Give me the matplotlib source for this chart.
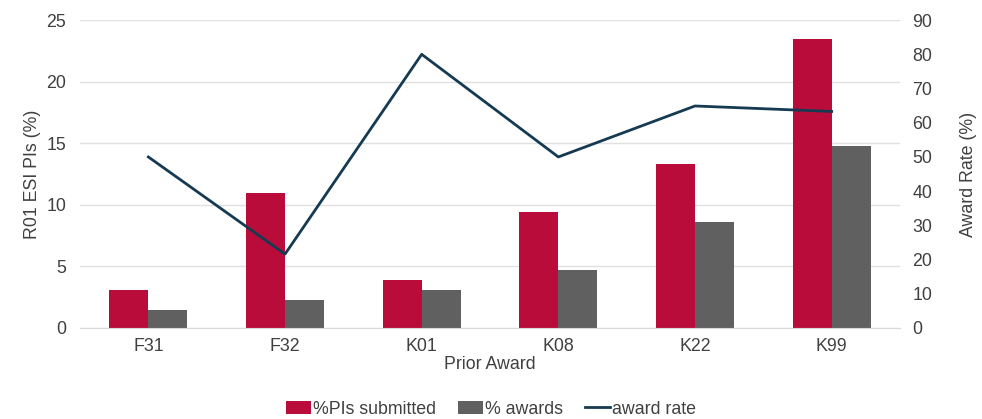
import matplotlib.pyplot as plt
import numpy as np

plt.rcParams['font.family'] = ['Liberation Sans', 'DejaVu Sans']

awards = ['F31', 'F32', 'K01', 'K08', 'K22', 'K99']
pct_submitted = [3.1, 11.0, 3.9, 9.4, 13.3, 23.5]
pct_awards = [1.5, 2.3, 3.1, 4.7, 8.6, 14.8]
award_rate = [50.0, 21.6, 80.0, 50.0, 64.9, 63.3]

red = '#BA0C3B'
grey = '#606060'
navy = '#163A52'
txt = '#404040'
fs = 12.8

fig = plt.figure(figsize=(9.82, 4.19), dpi=100)
ax = fig.add_axes([0.0815, 0.2172, 0.835, 0.7348])
ax2 = ax.twinx()

x = np.arange(len(awards))
w = 0.285
ax.bar(x - w / 2, pct_submitted, w, color=red, label='%PIs submitted', zorder=2)
ax.bar(x + w / 2, pct_awards, w, color=grey, label='% awards', zorder=2)
ax2.plot(x, award_rate, color=navy, lw=2, label='award rate')

ax.set_xlim(-0.5, len(awards) - 0.5)
ax.set_ylim(0, 25)
ax.set_yticks(range(0, 26, 5))
ax2.set_ylim(0, 90)
ax2.set_yticks(range(0, 91, 10))
ax.set_xticks(x)
ax.set_xticklabels(awards)

ax.grid(axis='y', color='#E0E0E0', lw=1, zorder=0)
ax.set_axisbelow(True)
for a in (ax, ax2):
    for s in a.spines.values():
        s.set_visible(False)
    a.tick_params(length=0, labelsize=fs, colors=txt)
ax.spines['bottom'].set_visible(True)
ax.spines['bottom'].set_color('#D9D9D9')
ax.tick_params(axis='y', pad=10)
ax2.tick_params(axis='y', pad=9)
ax.tick_params(axis='x', pad=7)

ax.set_ylabel('R01 ESI PIs (%)', fontsize=fs, color=txt, labelpad=4)
ax2.set_ylabel('Award Rate (%)', fontsize=fs, color=txt, labelpad=20)
ax.set_xlabel('Prior Award', fontsize=fs, color=txt, labelpad=1)

h1, l1 = ax.get_legend_handles_labels()
h2, l2 = ax2.get_legend_handles_labels()
fig.legend(h1 + h2, l1 + l2, loc='lower center', bbox_to_anchor=(0.5, -0.035),
           ncol=3, frameon=False, fontsize=fs, handlelength=1.4,
           handletextpad=0.15, columnspacing=1.2, labelcolor=txt)

fig.savefig('out.png', dpi=100)
